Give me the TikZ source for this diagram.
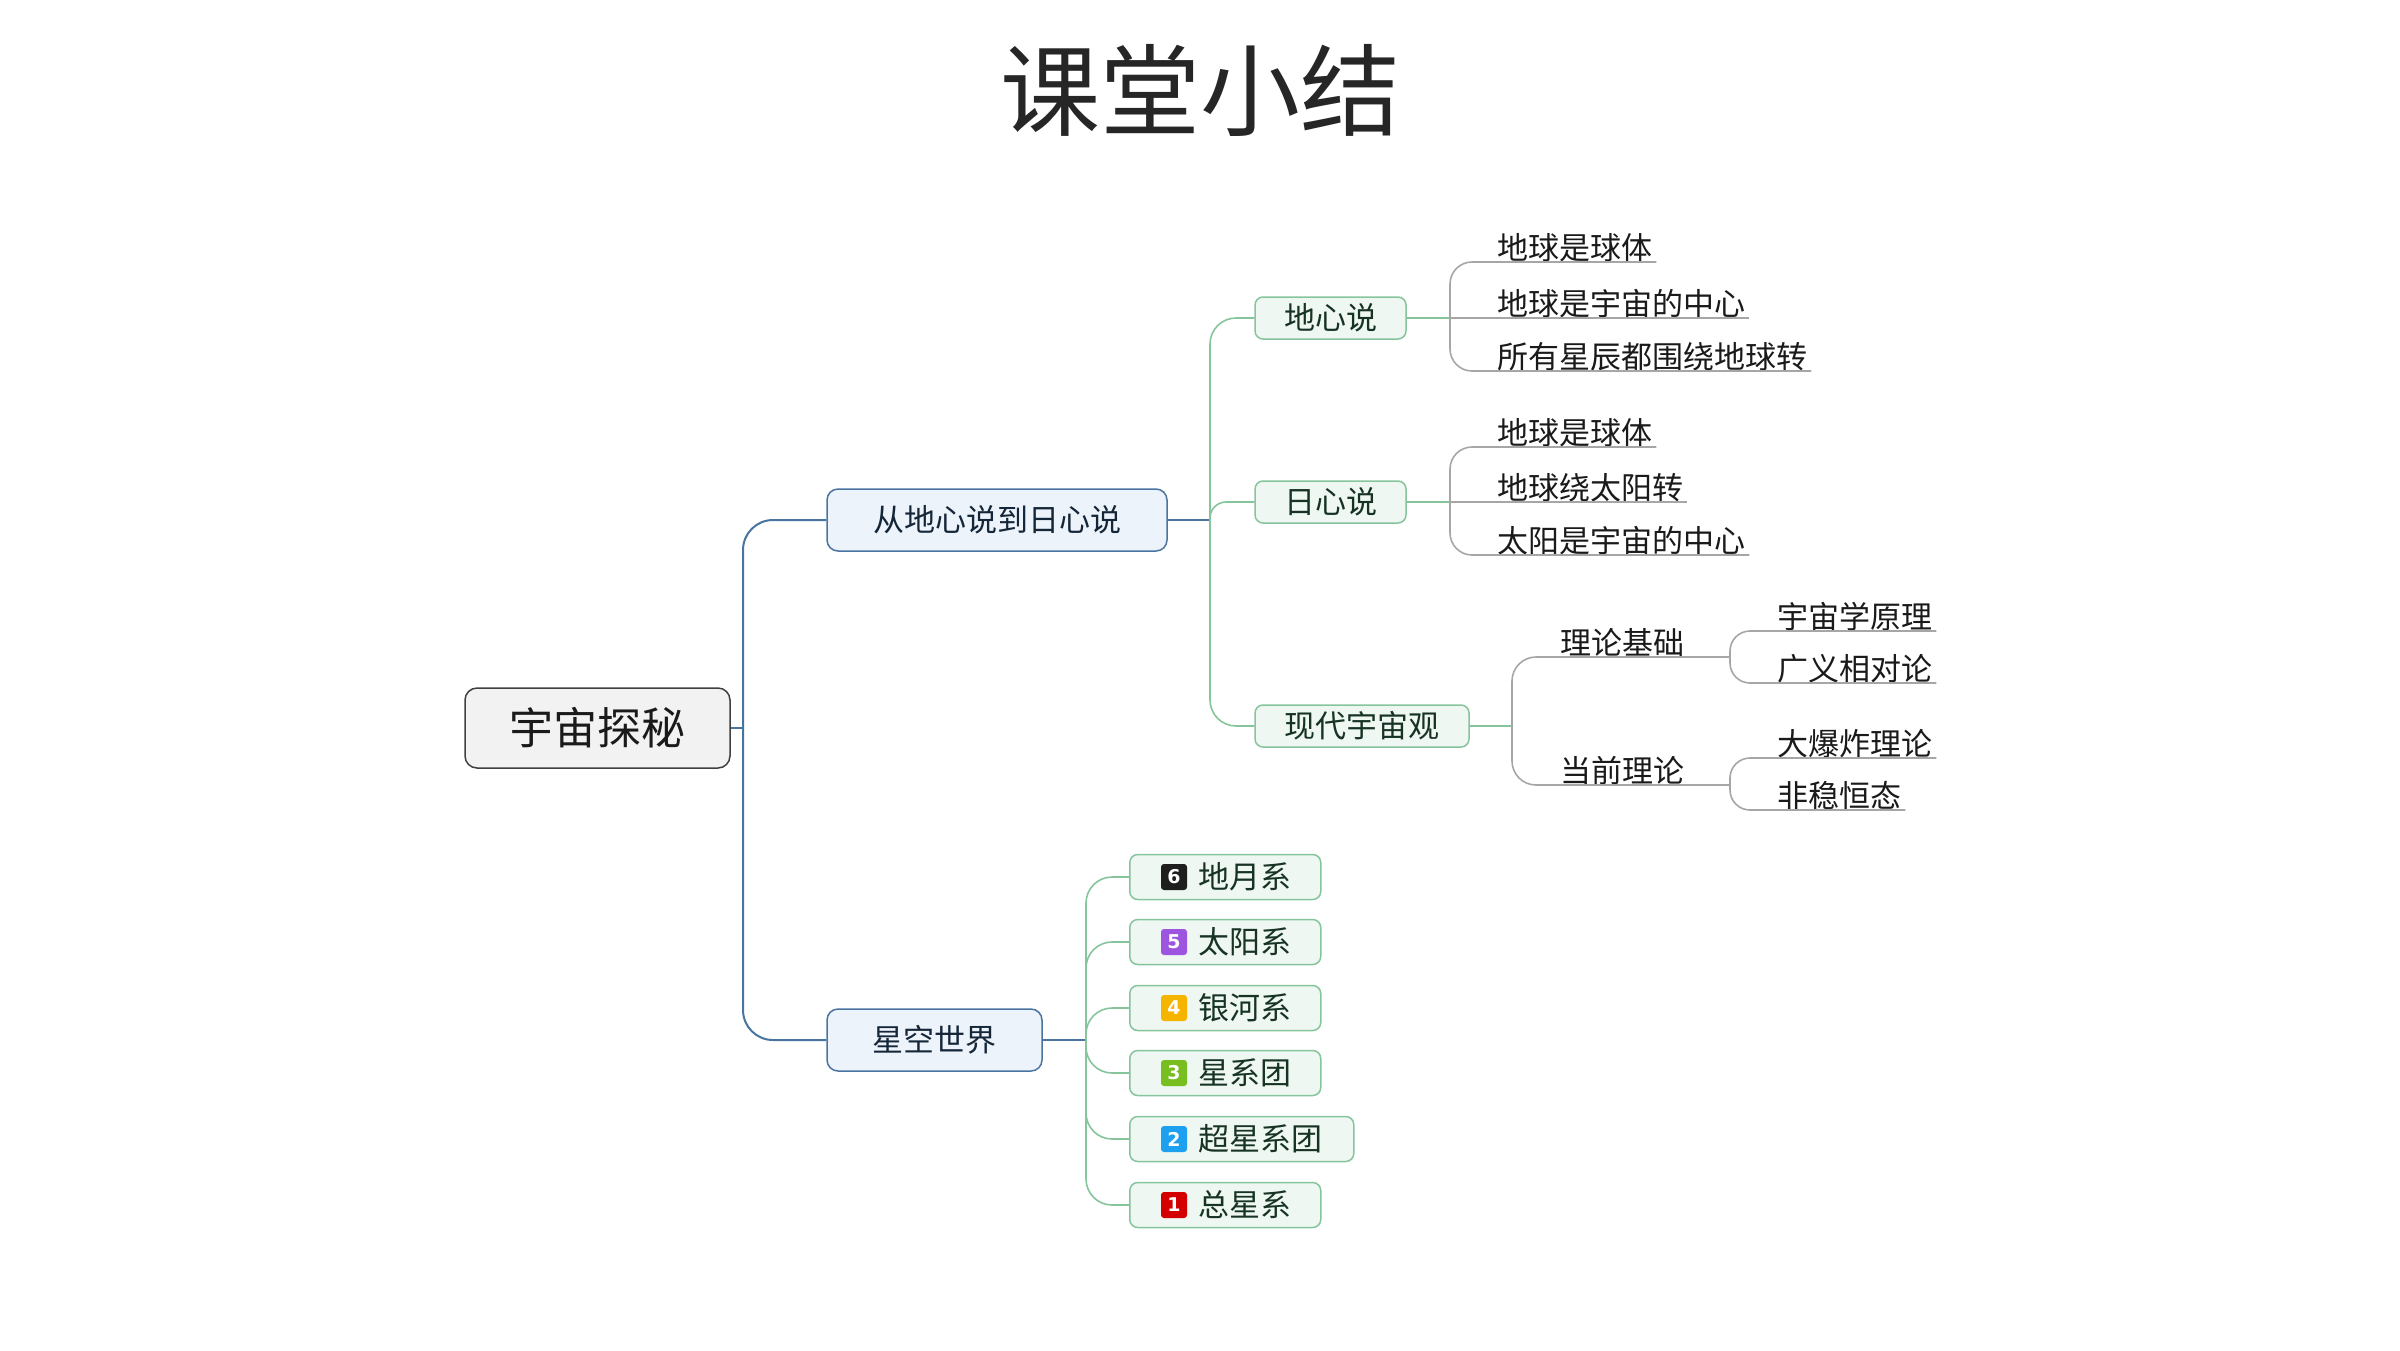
\documentclass[tikz,border=0pt]{standalone}
\usepackage{fontspec}
\setmainfont{Noto Sans CJK SC}
\newfontfamily\numfont{DejaVu Sans}
\definecolor{titlec}{HTML}{262626}
\definecolor{textc}{HTML}{1A1A1A}
\definecolor{rootfill}{HTML}{F2F2F2}
\definecolor{rootborder}{HTML}{404040}
\definecolor{blueline}{HTML}{4A74A0}
\definecolor{bluefill}{HTML}{EDF3FA}
\definecolor{bluetext}{HTML}{142638}
\definecolor{greenline}{HTML}{86C49C}
\definecolor{greenfill}{HTML}{EEF7F1}
\definecolor{greentext}{HTML}{173324}
\definecolor{greyline}{HTML}{A6A6A6}
\definecolor{bsix}{HTML}{1E1E1E}
\definecolor{bfive}{HTML}{9D55E0}
\definecolor{bfour}{HTML}{F5B400}
\definecolor{bthree}{HTML}{78BE20}
\definecolor{btwo}{HTML}{1EA0F0}
\definecolor{bone}{HTML}{D40000}
\begin{document}
\begin{tikzpicture}[x=1pt,y=-1pt,
  titlestyle/.style={font=\fontsize{100}{110}\selectfont, text=titlec, inner sep=0pt},
  rootbox/.style={draw=rootborder, fill=rootfill, rounded corners=12pt, line width=1.5pt, minimum width=265pt, minimum height=80pt, font=\fontsize{44}{50}\selectfont, text=textc, inner sep=0pt},
  bluebox/.style={draw=blueline, fill=bluefill, rounded corners=11pt, line width=1.5pt, minimum height=62pt, font=\fontsize{31}{36}\selectfont, text=bluetext, inner sep=0pt},
  greenbox/.style={draw=greenline, fill=greenfill, rounded corners=8pt, line width=1.5pt, minimum height=42pt, font=\fontsize{31}{36}\selectfont, text=greentext, inner sep=0pt},
  starbox/.style={draw=greenline, fill=greenfill, rounded corners=8pt, line width=1.5pt, minimum height=45pt, anchor=west, inner sep=0pt},
  startext/.style={anchor=west, font=\fontsize{31}{36}\selectfont, text=greentext, inner sep=0pt},
  badge/.style={fill=#1, rounded corners=3pt, minimum size=26pt, inner sep=0pt, text=white, font=\numfont\bfseries\fontsize{19}{20}\selectfont},
  leaf/.style={anchor=south west, inner xsep=0pt, inner ysep=2pt, text depth=0pt, font=\fontsize{31}{36}\selectfont, text=textc},
  bl/.style={draw=blueline, line width=2pt},
  gl/.style={draw=greenline, line width=1.6pt},
  ll/.style={draw=greyline, line width=1.6pt}
]
\useasboundingbox (0,0) rectangle (2400,1350);

\node[titlestyle] (title) at (1200,90) {课堂小结};

% root and main branches
\node[rootbox] (root) at (597.5,728) {宇宙探秘};
\node[bluebox, minimum width=340pt] (b1) at (997,520) {从地心说到日心说};
\node[bluebox, minimum width=215pt] (b2) at (934.5,1040) {星空世界};

\coordinate (tj) at (743,728);
\draw[bl] (root.east) -- (tj);
\draw[bl, rounded corners=30pt] (tj) |- (b1.west);
\draw[bl, rounded corners=30pt] (tj) |- (b2.west);

% green boxes
\node[greenbox, minimum width=151pt] (g1) at (1330.5,318) {地心说};
\node[greenbox, minimum width=151pt] (g2) at (1330.5,502) {日心说};
\node[greenbox, minimum width=214pt] (g3) at (1362,726) {现代宇宙观};

\coordinate (gj) at (1210,520);
\draw[bl] (b1.east) -- (gj);
\draw[gl, rounded corners=26pt] (gj) |- (g1.west);
\draw[gl, rounded corners=16pt] (gj) |- (g2.west);
\draw[gl, rounded corners=26pt] (gj) |- (g3.west);

% leaves of 地心说
\node[leaf] (l1) at (1497,262) {地球是球体};
\node[leaf] (l2) at (1497,318) {地球是宇宙的中心};
\node[leaf] (l3) at (1497,371) {所有星辰都围绕地球转};
\coordinate (lj1) at (1450,318);
\draw[gl] (g1.east) -- (lj1);
\draw[ll, rounded corners=22pt] (lj1) |- ([xshift=4pt]l1.south east);
\draw[ll] (lj1) -- ([xshift=4pt]l2.south east);
\draw[ll, rounded corners=22pt] (lj1) |- ([xshift=4pt]l3.south east);

% leaves of 日心说
\node[leaf] (l4) at (1497,447) {地球是球体};
\node[leaf] (l5) at (1497,502) {地球绕太阳转};
\node[leaf] (l6) at (1497,555) {太阳是宇宙的中心};
\coordinate (lj2) at (1450,502);
\draw[gl] (g2.east) -- (lj2);
\draw[ll, rounded corners=22pt] (lj2) |- ([xshift=4pt]l4.south east);
\draw[ll] (lj2) -- ([xshift=4pt]l5.south east);
\draw[ll, rounded corners=22pt] (lj2) |- ([xshift=4pt]l6.south east);

% 现代宇宙观
\node[leaf] (m1) at (1560,657) {理论基础};
\node[leaf] (m2) at (1560,785) {当前理论};
\coordinate (lj3) at (1512,726);
\coordinate (mj1) at (1730,657);
\coordinate (mj2) at (1730,785);
\draw[gl] (g3.east) -- (lj3);
\draw[ll, rounded corners=24pt] (lj3) |- (mj1);
\draw[ll, rounded corners=24pt] (lj3) |- (mj2);

\node[leaf] (n1) at (1777,631) {宇宙学原理};
\node[leaf] (n2) at (1777,683) {广义相对论};
\node[leaf] (n3) at (1777,758) {大爆炸理论};
\node[leaf] (n4) at (1777,810) {非稳恒态};
\draw[ll, rounded corners=20pt] (mj1) |- ([xshift=4pt]n1.south east);
\draw[ll, rounded corners=20pt] (mj1) |- ([xshift=4pt]n2.south east);
\draw[ll, rounded corners=20pt] (mj2) |- ([xshift=4pt]n3.south east);
\draw[ll, rounded corners=20pt] (mj2) |- ([xshift=4pt]n4.south east);

% 星空世界
\node[starbox, minimum width=191pt] (s6) at (1129,877) {};
\node[starbox, minimum width=191pt] (s5) at (1129,942) {};
\node[starbox, minimum width=191pt] (s4) at (1129,1008) {};
\node[starbox, minimum width=191pt] (s3) at (1129,1073) {};
\node[starbox, minimum width=224pt] (s2) at (1129,1139) {};
\node[starbox, minimum width=191pt] (s1) at (1129,1205) {};

\node[badge=bsix] (k6) at (1174,877) {6};
\node[badge=bfive] (k5) at (1174,942) {5};
\node[badge=bfour] (k4) at (1174,1008) {4};
\node[badge=bthree] (k3) at (1174,1073) {3};
\node[badge=btwo] (k2) at (1174,1139) {2};
\node[badge=bone] (k1) at (1174,1205) {1};

\node[startext] (t6) at (1198,877) {地月系};
\node[startext] (t5) at (1198,942) {太阳系};
\node[startext] (t4) at (1198,1008) {银河系};
\node[startext] (t3) at (1198,1073) {星系团};
\node[startext] (t2) at (1198,1139) {超星系团};
\node[startext] (t1) at (1198,1205) {总星系};

\coordinate (sj) at (1086,1040);
\draw[bl] (b2.east) -- (sj);
\foreach \s in {s6,s5,s4,s3,s2,s1}
  \draw[gl, rounded corners=26pt] (sj) |- (\s.west);
\end{tikzpicture}
\end{document}
